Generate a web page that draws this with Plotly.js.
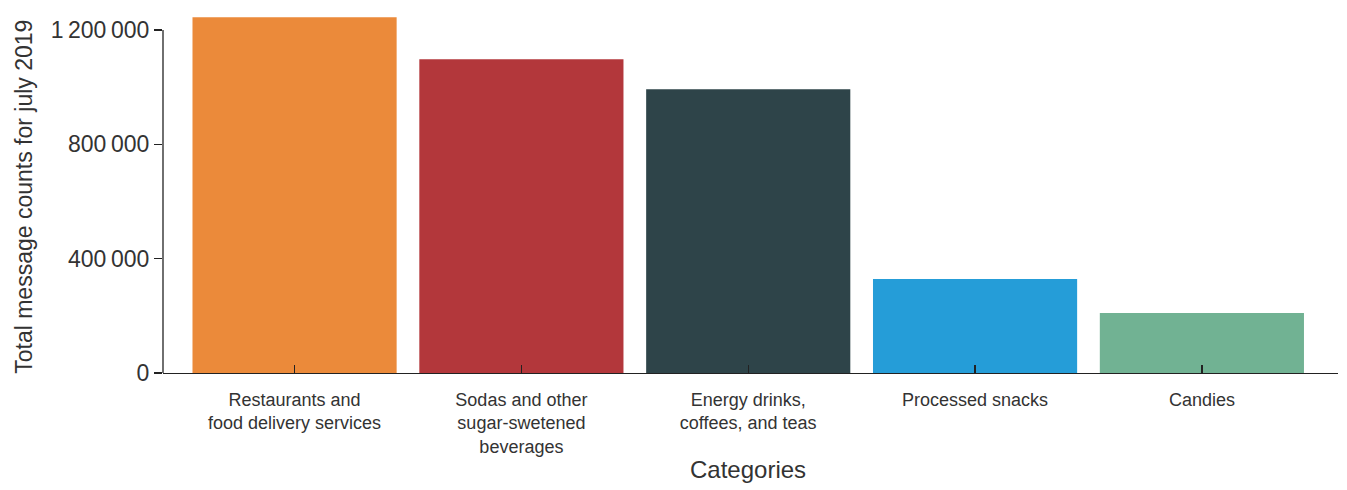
<!DOCTYPE html>
<html>
<head>
<meta charset="utf-8">
<script src="https://cdn.plot.ly/plotly-3.0.1.min.js"></script>
<style>html,body{margin:0;padding:0;background:#fff;}#chart{width:1347px;height:490px;}</style>
</head>
<body>
<div id="chart"></div>
<script>
const categories = [
  "Restaurants and<br>food delivery services",
  "Sodas and other<br>sugar-swetened<br>beverages",
  "Energy drinks,<br>coffees, and teas",
  "Processed snacks",
  "Candies"
];
const messageCounts = [1245000, 1098000, 993000, 329000, 210000];
const barColors = ["#EB8A3A", "#B3373B", "#2E4449", "#259DD8", "#71B293"];
const yTickVals = [0, 400000, 800000, 1200000];
const xTitle = "Categories";
const yTitle = "Total message counts for july 2019";

const font = "Liberation Sans, Arial, Helvetica, sans-serif";

const data = [{
  type: "bar",
  x: [0, 1, 2, 3, 4],
  y: messageCounts,
  marker: {color: barColors, line: {width: 0}},
  width: 0.9,
  hoverinfo: "y"
}];

const layout = {
  width: 1347,
  height: 490,
  margin: {l: 163, r: 9, t: 13, b: 117},
  paper_bgcolor: "#fff",
  plot_bgcolor: "#fff",
  separators: ".\u2009",
  showlegend: false,
  font: {family: font, color: "#333"},
  xaxis: {
    range: [-0.58, 4.6],
    tickvals: [0, 1, 2, 3, 4],
    ticktext: categories,
    tickfont: {size: 18, color: "#333"},
    ticks: "inside",
    ticklen: 8,
    tickcolor: "#222",
    tickwidth: 1.3,
    ticklabelstandoff: 10,
    showline: true,
    linecolor: "#222",
    linewidth: 1.3,
    showgrid: false,
    zeroline: false
  },
  yaxis: {
    range: [0, 1259475],
    tickvals: yTickVals,
    tickformat: ",d",
    tickfont: {size: 23, color: "#333"},
    ticks: "outside",
    ticklen: 8,
    tickcolor: "#222",
    tickwidth: 1.3,
    showline: false,
    showgrid: false,
    zeroline: false
  },
  annotations: [
    {
      text: xTitle, xref: "paper", yref: "paper", x: 0.498, y: -0.267,
      xanchor: "center", yanchor: "middle", showarrow: false,
      font: {size: 24, color: "#333", family: font}
    },
    {
      text: yTitle, xref: "paper", yref: "paper", x: -0.119, y: 0.49,
      xanchor: "center", yanchor: "middle", showarrow: false, textangle: -90,
      font: {size: 23, color: "#333", family: font}
    }
  ],
  shapes: [{
    type: "line",
    xref: "paper", x0: 0, x1: 0,
    yref: "y", y0: 0, y1: yTickVals[yTickVals.length - 1],
    line: {color: "#222", width: 1.3},
    layer: "above"
  }]
};

Plotly.newPlot("chart", data, layout, {displayModeBar: false, staticPlot: true});
</script>
</body>
</html>
